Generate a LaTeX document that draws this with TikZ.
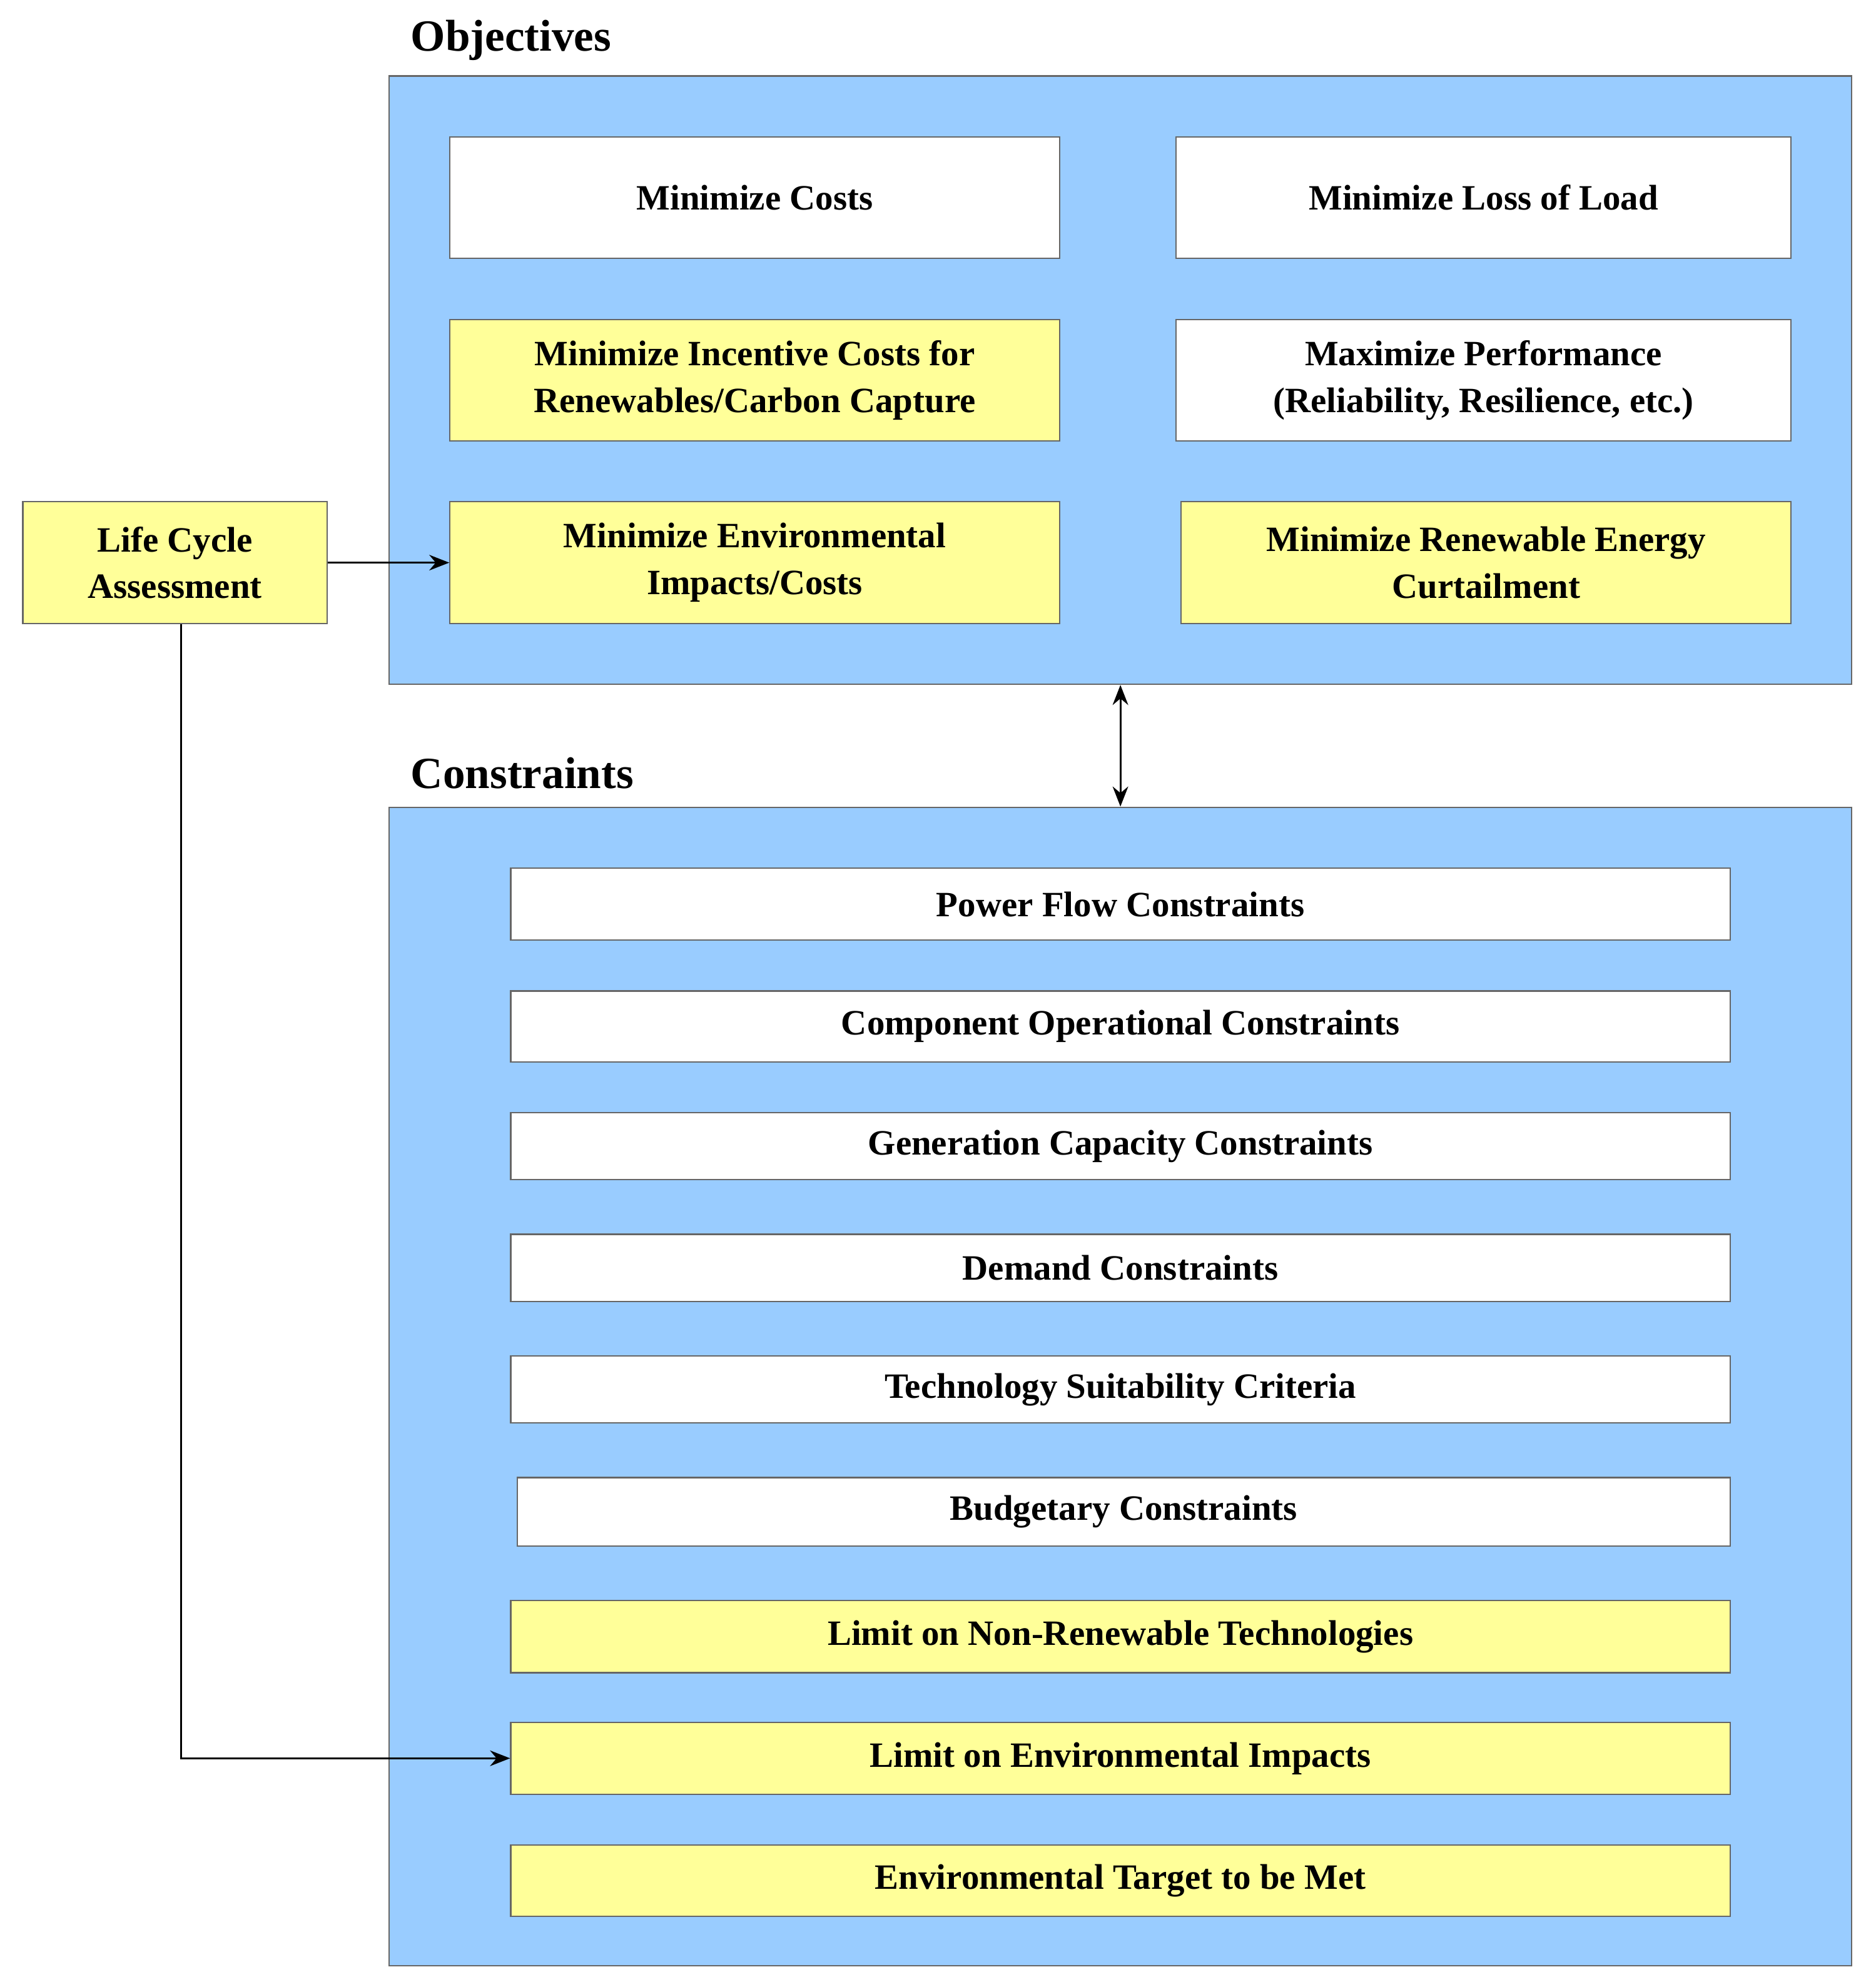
\documentclass[tikz,border=0pt]{standalone}
\usepackage{fontspec}
\setmainfont{Liberation Serif}
\usetikzlibrary{arrows.meta}
\definecolor{panelblue}{HTML}{99CCFF}
\definecolor{boxyellow}{HTML}{FFFF99}
\tikzset{
  px/.style={x=0.02cm,y=-0.02cm},
  panel/.style={fill=panelblue,draw=black!60,line width=0.6pt},
  box/.style={draw=black!60,line width=0.6pt,inner sep=0pt,align=center,
    font=\fontsize{16}{21}\selectfont\bfseries},
  wbox/.style={box,fill=white},
  ybox/.style={box,fill=boxyellow},
  title/.style={anchor=west,font=\fontsize{20}{24}\selectfont\bfseries},
  arrow/.style={line width=0.9pt,-{Stealth[length=9pt,width=7pt]}}
}
% box from corners: \bx{name}{style}{x1}{y1}{x2}{y2}{text}
\newcommand{\bx}[7]{\node[#2,minimum width=#5*0.02cm-#3*0.02cm,minimum height=#6*0.02cm-#4*0.02cm] (#1) at ({(#3+#5)/2},{(#4+#6)/2}) {#7};}
\begin{document}
\begin{tikzpicture}[px]
\useasboundingbox (0,0) rectangle (1480,1568);
% panels
\node[panel,minimum width=1154*0.02cm,minimum height=480*0.02cm,inner sep=0pt] (obj) at (884,300) {};
\node[panel,minimum width=1154*0.02cm,minimum height=914*0.02cm,inner sep=0pt] (con) at (884,1094) {};
\node[title] (objt) at (318,32) {Objectives};
\node[title] (cont) at (318,610) {Constraints};
% objectives
\bx{o1}{wbox}{355}{108}{836}{204}{Minimize Costs}
\bx{o2}{wbox}{928}{108}{1413}{204}{Minimize Loss of Load}
\bx{o3}{ybox}{355}{252}{836}{348}{Minimize Incentive Costs for\\Renewables/Carbon Capture}
\bx{o4}{wbox}{928}{252}{1413}{348}{Maximize Performance\\(Reliability, Resilience, etc.)}
\bx{o5}{ybox}{355}{396}{836}{492}{Minimize Environmental\\Impacts/Costs}
\bx{o6}{ybox}{932}{396}{1413}{492}{Minimize Renewable Energy\\Curtailment}
\bx{lca}{ybox}{18}{396}{258}{492}{Life Cycle\\Assessment}
% constraints
\bx{c1}{wbox}{403}{685}{1365}{742}{Power Flow Constraints}
\bx{c2}{wbox}{403}{782}{1365}{838}{Component Operational Constraints}
\bx{c3}{wbox}{403}{878}{1365}{931}{Generation Capacity Constraints}
\bx{c4}{wbox}{403}{974}{1365}{1027}{Demand Constraints}
\bx{c5}{wbox}{403}{1070}{1365}{1123}{Technology Suitability Criteria}
\bx{c6}{wbox}{408}{1166}{1365}{1220}{Budgetary Constraints}
\bx{c7}{ybox}{403}{1263}{1365}{1320}{Limit on Non-Renewable Technologies}
\bx{c8}{ybox}{403}{1359}{1365}{1416}{Limit on Environmental Impacts}
\bx{c9}{ybox}{403}{1456}{1365}{1512}{Environmental Target to be Met}
% connectors
\draw[arrow] (lca.east) -- (o5.west);
\draw[arrow] (lca.south -| 143,0) |- (c8.west);
\draw[arrow,{Stealth[length=9pt,width=7pt]}-{Stealth[length=9pt,width=7pt]}] (obj.south) -- (con.north);
\end{tikzpicture}
\end{document}
